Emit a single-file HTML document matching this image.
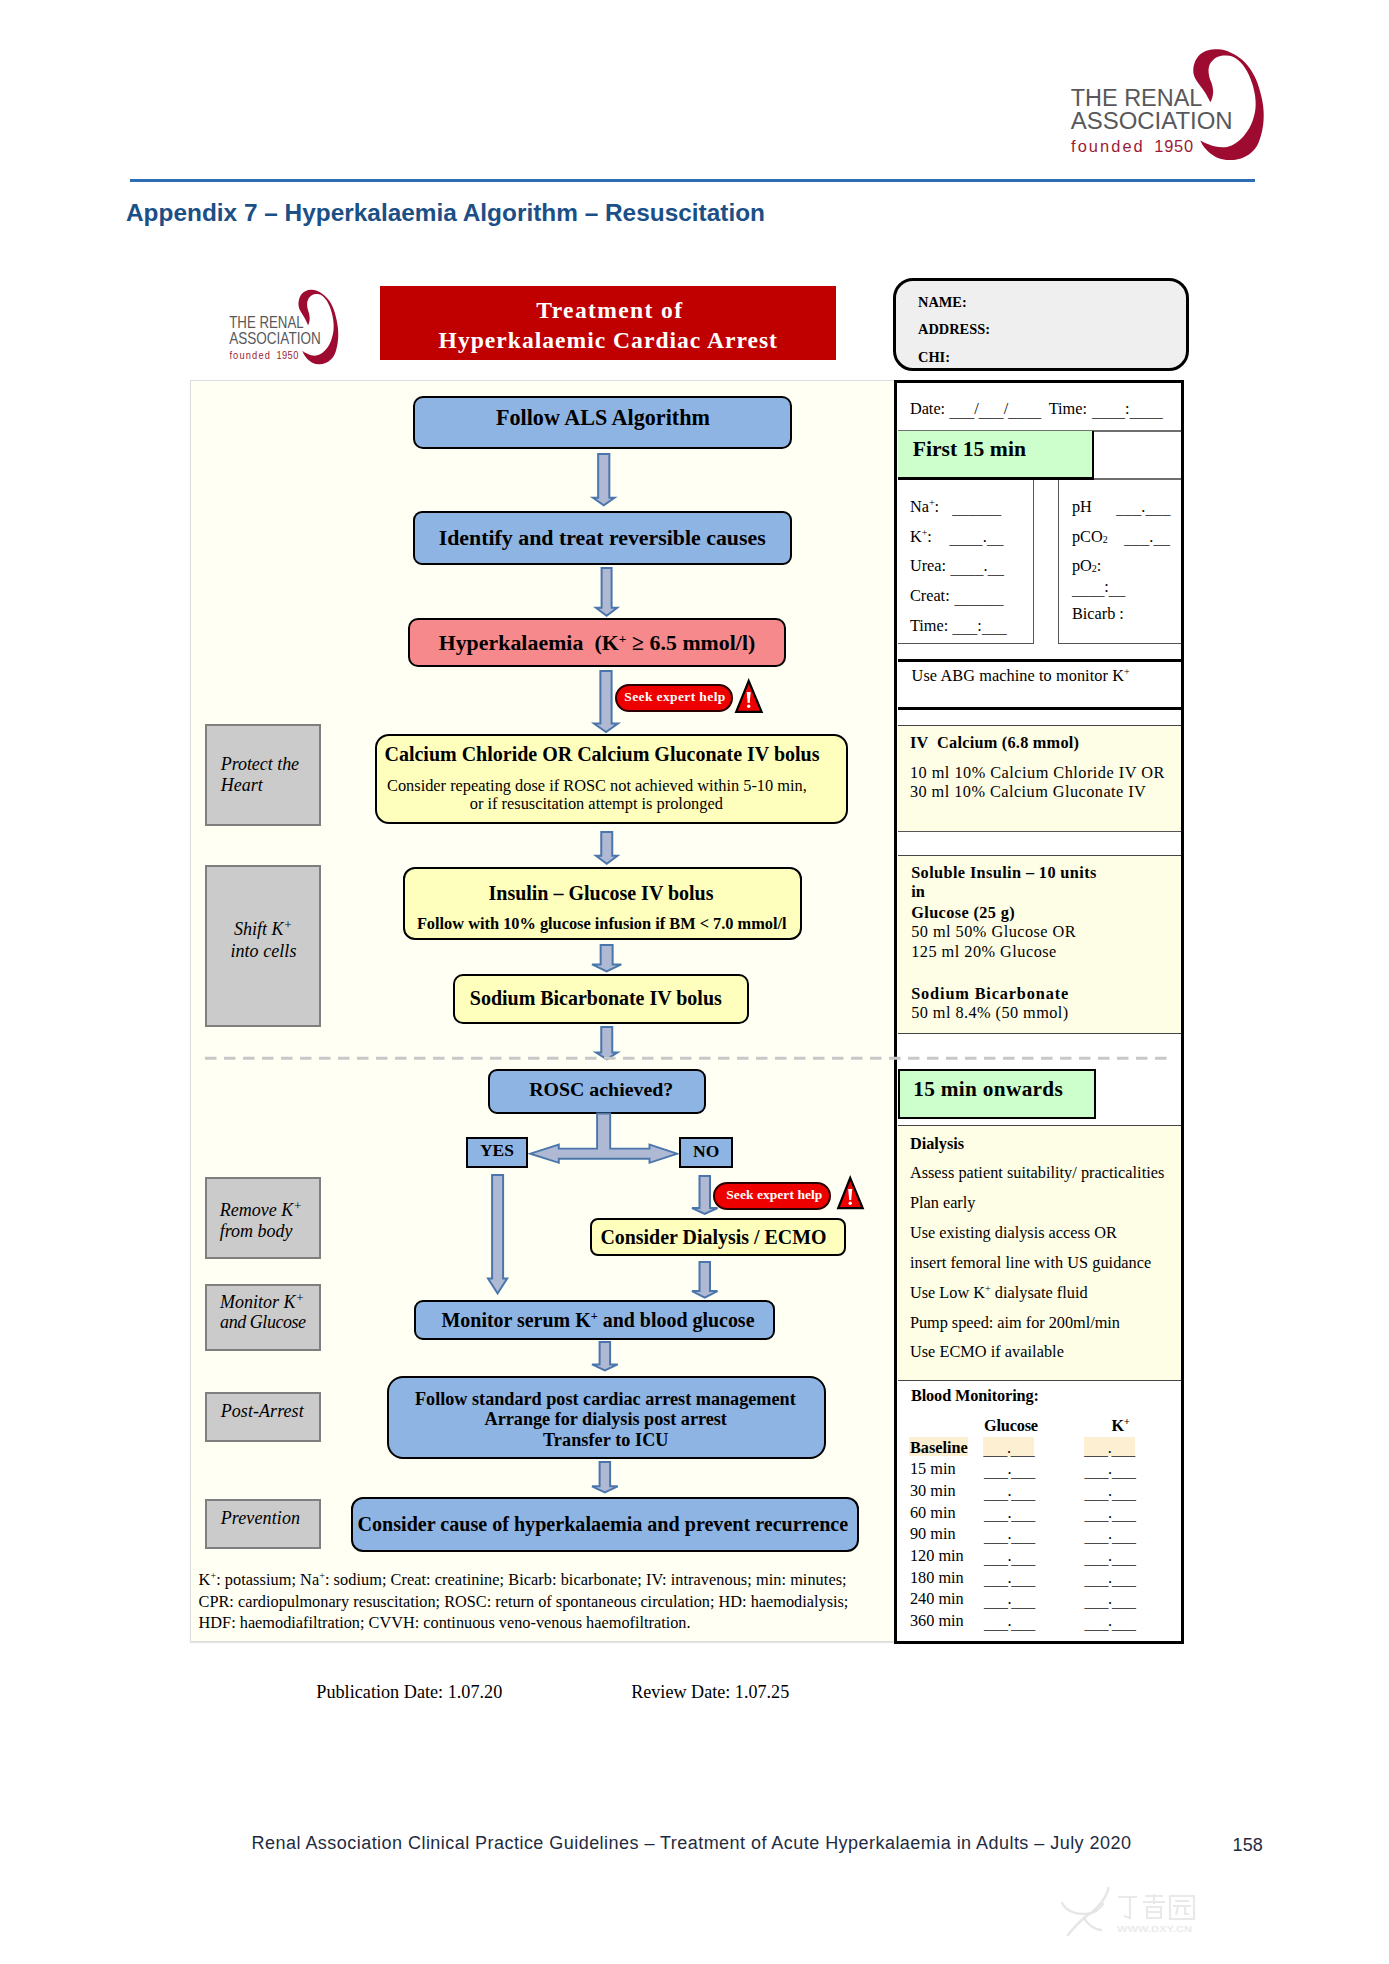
<!DOCTYPE html>
<html><head><meta charset='utf-8'><title>Hyperkalaemia Algorithm</title><style>
html,body{margin:0;padding:0;background:#fff;}
body{width:1389px;height:1964px;position:relative;overflow:hidden;}
.t{position:absolute;white-space:nowrap;line-height:1;}
.r{position:absolute;box-sizing:border-box;}
svg.r{overflow:visible;}
.sp{font-size:62%;vertical-align:0.55em;line-height:0;}
.sb{font-size:62%;vertical-align:-0.1em;line-height:0;}
.u{color:#4a4a4a;position:relative;top:2.5px;}
.sp2{font-size:72%;vertical-align:0.5em;line-height:0;}
</style></head><body>
<svg class='r' style='left:1065.00px;top:45.00px;width:205.00px;height:117.00px' viewBox='1065 45 205 117' preserveAspectRatio='none'><path d='M1210.4,102.22 C1209.53,100.64 1207.09,95.75 1205.20,92.74 C1203.31,89.73 1200.82,86.72 1199.08,84.17 C1197.34,81.62 1195.76,79.69 1194.79,77.44 C1193.82,75.19 1193.26,73.25 1193.26,70.70 C1193.26,68.15 1193.72,64.79 1194.79,62.14 C1195.86,59.49 1197.75,56.68 1199.69,54.79 C1201.63,52.90 1203.97,51.73 1206.42,50.81 C1208.87,49.89 1211.32,49.38 1214.38,49.28 C1217.44,49.18 1221.01,49.08 1224.78,50.20 C1228.55,51.32 1233.25,53.52 1237.02,56.02 C1240.79,58.52 1244.26,61.33 1247.42,65.20 C1250.58,69.08 1253.64,73.97 1255.99,79.27 C1258.34,84.57 1260.22,91.51 1261.50,97.02 C1262.78,102.53 1263.44,107.22 1263.64,112.32 C1263.84,117.42 1263.59,122.52 1262.72,127.62 C1261.85,132.72 1260.38,138.74 1258.44,142.92 C1256.50,147.10 1254.16,150.06 1251.10,152.71 C1248.04,155.36 1243.75,157.61 1240.08,158.83 C1236.41,160.06 1232.63,160.16 1229.06,160.06 C1225.49,159.96 1221.92,159.44 1218.66,158.22 C1215.40,157.00 1212.03,154.75 1209.48,152.71 C1206.93,150.67 1204.89,148.02 1203.36,145.98 C1201.83,143.94 1200.81,141.39 1200.30,140.47 C1201.32,140.98 1203.87,142.51 1206.42,143.53 C1208.97,144.55 1212.54,145.98 1215.60,146.59 C1218.66,147.20 1221.72,147.61 1224.78,147.20 C1227.84,146.79 1230.90,145.87 1233.96,144.14 C1237.02,142.41 1240.28,140.06 1243.14,136.80 C1246.00,133.54 1249.06,129.15 1251.10,124.56 C1253.14,119.97 1254.77,114.36 1255.38,109.26 C1255.99,104.16 1255.59,99.06 1254.77,93.96 C1253.95,88.86 1252.42,83.45 1250.48,78.66 C1248.54,73.87 1245.89,68.77 1243.14,65.20 C1240.39,61.63 1237.02,58.87 1233.96,57.24 C1230.90,55.61 1227.64,55.40 1224.78,55.40 C1221.92,55.40 1219.17,56.02 1216.82,57.24 C1214.47,58.47 1212.08,60.71 1210.70,62.75 C1209.32,64.79 1208.76,67.03 1208.56,69.48 C1208.36,71.93 1208.92,74.99 1209.48,77.44 C1210.04,79.89 1211.32,81.83 1211.93,84.17 C1212.54,86.52 1213.10,89.27 1213.15,91.51 C1213.20,93.75 1212.69,95.84 1212.23,97.63 C1211.77,99.41 1210.71,101.45 1210.40,102.22 Z' fill='#9E0B30'/><text x='1070.7' y='105.6' font-family='Liberation Sans' font-size='24.6' fill='#58585A' textLength='131.7' lengthAdjust='spacingAndGlyphs'>THE RENAL</text><text x='1070.7' y='129.4' font-family='Liberation Sans' font-size='24.3' fill='#58585A' textLength='162' lengthAdjust='spacingAndGlyphs'>ASSOCIATION</text><text x='1071' y='151.8' font-family='Liberation Sans' font-size='16.4' fill='#9B1B36' textLength='71.7' lengthAdjust='spacing'>founded</text><text x='1154.3' y='151.8' font-family='Liberation Sans' font-size='16.4' fill='#9B1B36' textLength='38.7' lengthAdjust='spacing'>1950</text></svg>
<div class='r' style='left:130.00px;top:179.00px;width:1125.00px;height:3.00px;background:#2E6DB4;'></div>
<div id='t1' class='t' style='letter-spacing:0.002px;left:126.00px;top:201.35px;font-size:24.4px;font-family:"Liberation Sans", sans-serif;font-weight:bold;font-style:normal;color:#1B4F86;'>Appendix 7 – Hyperkalaemia Algorithm – Resuscitation</div>
<div class='r' style='left:190.00px;top:380.00px;width:705.00px;height:1262.00px;background:#FFFFF4;border:1.5px solid #DCDCDC;box-shadow:0 1px 1px #e6e6e6;'></div>
<svg class='r' style='left:225.78px;top:286.81px;width:115.82px;height:78.51px' viewBox='1065 45 205 117' preserveAspectRatio='none'><path d='M1210.4,102.22 C1209.53,100.64 1207.09,95.75 1205.20,92.74 C1203.31,89.73 1200.82,86.72 1199.08,84.17 C1197.34,81.62 1195.76,79.69 1194.79,77.44 C1193.82,75.19 1193.26,73.25 1193.26,70.70 C1193.26,68.15 1193.72,64.79 1194.79,62.14 C1195.86,59.49 1197.75,56.68 1199.69,54.79 C1201.63,52.90 1203.97,51.73 1206.42,50.81 C1208.87,49.89 1211.32,49.38 1214.38,49.28 C1217.44,49.18 1221.01,49.08 1224.78,50.20 C1228.55,51.32 1233.25,53.52 1237.02,56.02 C1240.79,58.52 1244.26,61.33 1247.42,65.20 C1250.58,69.08 1253.64,73.97 1255.99,79.27 C1258.34,84.57 1260.22,91.51 1261.50,97.02 C1262.78,102.53 1263.44,107.22 1263.64,112.32 C1263.84,117.42 1263.59,122.52 1262.72,127.62 C1261.85,132.72 1260.38,138.74 1258.44,142.92 C1256.50,147.10 1254.16,150.06 1251.10,152.71 C1248.04,155.36 1243.75,157.61 1240.08,158.83 C1236.41,160.06 1232.63,160.16 1229.06,160.06 C1225.49,159.96 1221.92,159.44 1218.66,158.22 C1215.40,157.00 1212.03,154.75 1209.48,152.71 C1206.93,150.67 1204.89,148.02 1203.36,145.98 C1201.83,143.94 1200.81,141.39 1200.30,140.47 C1201.32,140.98 1203.87,142.51 1206.42,143.53 C1208.97,144.55 1212.54,145.98 1215.60,146.59 C1218.66,147.20 1221.72,147.61 1224.78,147.20 C1227.84,146.79 1230.90,145.87 1233.96,144.14 C1237.02,142.41 1240.28,140.06 1243.14,136.80 C1246.00,133.54 1249.06,129.15 1251.10,124.56 C1253.14,119.97 1254.77,114.36 1255.38,109.26 C1255.99,104.16 1255.59,99.06 1254.77,93.96 C1253.95,88.86 1252.42,83.45 1250.48,78.66 C1248.54,73.87 1245.89,68.77 1243.14,65.20 C1240.39,61.63 1237.02,58.87 1233.96,57.24 C1230.90,55.61 1227.64,55.40 1224.78,55.40 C1221.92,55.40 1219.17,56.02 1216.82,57.24 C1214.47,58.47 1212.08,60.71 1210.70,62.75 C1209.32,64.79 1208.76,67.03 1208.56,69.48 C1208.36,71.93 1208.92,74.99 1209.48,77.44 C1210.04,79.89 1211.32,81.83 1211.93,84.17 C1212.54,86.52 1213.10,89.27 1213.15,91.51 C1213.20,93.75 1212.69,95.84 1212.23,97.63 C1211.77,99.41 1210.71,101.45 1210.40,102.22 Z' fill='#9E0B30'/><text x='1070.7' y='105.6' font-family='Liberation Sans' font-size='24.6' fill='#58585A' textLength='131.7' lengthAdjust='spacingAndGlyphs'>THE RENAL</text><text x='1070.7' y='129.4' font-family='Liberation Sans' font-size='24.3' fill='#58585A' textLength='162' lengthAdjust='spacingAndGlyphs'>ASSOCIATION</text><text x='1071' y='151.8' font-family='Liberation Sans' font-size='16.4' fill='#9B1B36' textLength='71.7' lengthAdjust='spacing'>founded</text><text x='1154.3' y='151.8' font-family='Liberation Sans' font-size='16.4' fill='#9B1B36' textLength='38.7' lengthAdjust='spacing'>1950</text></svg>
<div class='r' style='left:380.00px;top:285.50px;width:456.00px;height:74.70px;background:#C00000;'></div>
<div id='t2' class='t' style='letter-spacing:1.361px;left:536.30px;top:298.85px;font-size:23.6px;font-family:"Liberation Serif", serif;font-weight:bold;font-style:normal;color:#fff;'>Treatment of</div>
<div id='t3' class='t' style='letter-spacing:0.997px;left:438.60px;top:328.65px;font-size:23.6px;font-family:"Liberation Serif", serif;font-weight:bold;font-style:normal;color:#fff;'>Hyperkalaemic Cardiac Arrest</div>
<div class='r' style='left:892.70px;top:277.80px;width:296.80px;height:93.00px;background:#EFEFEF;border:3px solid #000;border-radius:20px;box-sizing:border-box;'></div>
<div id='t4' class='t' style='left:918.00px;top:294.69px;font-size:14.4px;font-family:"Liberation Serif", serif;font-weight:bold;font-style:normal;color:#000;'>NAME:</div>
<div id='t5' class='t' style='letter-spacing:0.004px;left:918.00px;top:322.49px;font-size:14.4px;font-family:"Liberation Serif", serif;font-weight:bold;font-style:normal;color:#000;'>ADDRESS:</div>
<div id='t6' class='t' style='left:918.00px;top:349.69px;font-size:14.4px;font-family:"Liberation Serif", serif;font-weight:bold;font-style:normal;color:#000;'>CHI:</div>
<div class='r' style='left:412.70px;top:395.70px;width:379.50px;height:53.30px;background:#8EB4E3;border:2.2px solid #000;border-radius:10px;box-sizing:border-box;'></div>
<div id='t7' class='t' style='left:496.00px;top:406.65px;font-size:22.14px;font-family:"Liberation Serif", serif;font-weight:bold;font-style:normal;color:#000;'>Follow ALS Algorithm</div>
<svg class='r' style='left:589.75px;top:451.10px;width:27.50px;height:57.30px'><path d='M8.149999999999977,3.0 L19.350000000000023,3.0 L19.350000000000023,46.799999999999955 L24.5,46.799999999999955 L13.75,54.299999999999955 L3.0,46.799999999999955 L8.149999999999977,46.799999999999955 Z' fill='#AFB9D3' stroke='#4A76AC' stroke-width='2' stroke-linejoin='miter'/></svg>
<div class='r' style='left:412.70px;top:510.80px;width:379.50px;height:54.70px;background:#8EB4E3;border:2.2px solid #000;border-radius:9px;box-sizing:border-box;'></div>
<div id='t8' class='t' style='left:438.70px;top:527.77px;font-size:21.86px;font-family:"Liberation Serif", serif;font-weight:bold;font-style:normal;color:#000;'>Identify and treat reversible causes</div>
<svg class='r' style='left:593.10px;top:564.60px;width:27.20px;height:53.70px'><path d='M8.600000000000023,3.0 L18.600000000000023,3.0 L18.600000000000023,42.69999999999993 L24.200000000000045,42.69999999999993 L13.600000000000023,50.69999999999993 L3.0,42.69999999999993 L8.600000000000023,42.69999999999993 Z' fill='#AFB9D3' stroke='#4A76AC' stroke-width='2' stroke-linejoin='miter'/></svg>
<div class='r' style='left:407.60px;top:617.50px;width:378.80px;height:49.80px;background:#F5898C;border:2.2px solid #000;border-radius:10px;box-sizing:border-box;'></div>
<div id='t9' class='t' style='letter-spacing:0.070px;left:438.70px;top:632.87px;font-size:21.75px;font-family:"Liberation Serif", serif;font-weight:bold;font-style:normal;color:#000;'>Hyperkalaemia&nbsp; (K<span class='sp'>+</span> ≥ 6.5 mmol/l)</div>
<svg class='r' style='left:591.00px;top:668.20px;width:30.00px;height:67.00px'><path d='M9.399999999999977,3.0 L20.600000000000023,3.0 L20.600000000000023,55.5 L27.0,55.5 L15.0,64.0 L3.0,55.5 L9.399999999999977,55.5 Z' fill='#AFB9D3' stroke='#4A76AC' stroke-width='2' stroke-linejoin='miter'/></svg>
<div class='r' style='left:614.80px;top:684.10px;width:118.70px;height:28.10px;background:#EE0000;border:2px solid #2a0000;border-radius:14.050000000000011px;box-sizing:border-box;'></div>
<div id='t10' class='t' style='letter-spacing:0.383px;left:624.30px;top:689.53px;font-size:13.5px;font-family:"Liberation Serif", serif;font-weight:bold;font-style:normal;color:#fff;'>Seek expert help</div>
<svg class='r' style='left:731.50px;top:675.00px;width:33.80px;height:40.80px'><path d='M16.700000000000045,6 L29.599999999999955,36.799999999999955 L4.2,36.799999999999955 Z' fill='#EE0000' stroke='#000' stroke-width='2.2' stroke-linejoin='miter'/><path d='M14.700000000000045,17 L18.700000000000045,17 L17.700000000000045,28 L15.700000000000045,28 Z' fill='#fff'/><circle cx='16.700000000000045' cy='31.3' r='1.7' fill='#fff'/></svg>
<div class='r' style='left:375.10px;top:734.40px;width:473.40px;height:89.30px;background:#FFFFBD;border:2.2px solid #000;border-radius:14px;box-sizing:border-box;'></div>
<div id='t11' class='t' style='letter-spacing:-0.005px;left:384.50px;top:744.30px;font-size:20px;font-family:"Liberation Serif", serif;font-weight:bold;font-style:normal;color:#000;'>Calcium Chloride OR Calcium Gluconate IV bolus</div>
<div id='t12' class='t' style='left:387.00px;top:777.88px;font-size:16.37px;font-family:"Liberation Serif", serif;font-weight:normal;font-style:normal;color:#000;'>Consider repeating dose if ROSC not achieved within 5-10 min,</div>
<div id='t13' class='t' style='left:469.80px;top:795.88px;font-size:16.36px;font-family:"Liberation Serif", serif;font-weight:normal;font-style:normal;color:#000;'>or if resuscitation attempt is prolonged</div>
<svg class='r' style='left:592.75px;top:828.60px;width:27.50px;height:37.70px'><path d='M8.25,3.0 L19.25,3.0 L19.25,26.699999999999932 L24.5,26.699999999999932 L13.75,34.69999999999993 L3.0,26.699999999999932 L8.25,26.699999999999932 Z' fill='#AFB9D3' stroke='#4A76AC' stroke-width='2' stroke-linejoin='miter'/></svg>
<div class='r' style='left:402.50px;top:866.90px;width:399.20px;height:73.40px;background:#FFFFBD;border:2.2px solid #000;border-radius:12px;box-sizing:border-box;'></div>
<div id='t14' class='t' style='letter-spacing:-0.011px;left:488.50px;top:882.50px;font-size:20px;font-family:"Liberation Serif", serif;font-weight:bold;font-style:normal;color:#000;'>Insulin – Glucose IV bolus</div>
<div id='t15' class='t' style='letter-spacing:-0.002px;left:416.90px;top:916.09px;font-size:16.35px;font-family:"Liberation Serif", serif;font-weight:bold;font-style:normal;color:#000;'>Follow with 10% glucose infusion if BM &lt; 7.0 mmol/l</div>
<svg class='r' style='left:589.35px;top:942.00px;width:35.30px;height:32.40px'><path d='M11.649999999999977,3 L23.649999999999977,3 L23.649999999999977,22.399999999999977 L32.299999999999955,22.399999999999977 L17.649999999999977,29.399999999999977 L3.0,22.399999999999977 L11.649999999999977,22.399999999999977 Z' fill='#AFB9D3' stroke='#4A76AC' stroke-width='2' stroke-linejoin='miter'/></svg>
<div class='r' style='left:452.90px;top:973.90px;width:295.90px;height:49.70px;background:#FFFFBD;border:2.2px solid #000;border-radius:10px;box-sizing:border-box;'></div>
<div id='t16' class='t' style='letter-spacing:-0.019px;left:469.80px;top:988.10px;font-size:20px;font-family:"Liberation Serif", serif;font-weight:bold;font-style:normal;color:#000;'>Sodium Bicarbonate IV bolus</div>
<svg class='r' style='left:593.25px;top:1023.50px;width:27.50px;height:38.40px'><path d='M8.25,3.0 L19.25,3.0 L19.25,28.40000000000009 L24.5,28.40000000000009 L13.75,35.40000000000009 L3.0,28.40000000000009 L8.25,28.40000000000009 Z' fill='#AFB9D3' stroke='#4A76AC' stroke-width='2' stroke-linejoin='miter'/></svg>
<div class='r' style='left:487.80px;top:1068.60px;width:217.80px;height:45.00px;background:#8EB4E3;border:2.2px solid #000;border-radius:9px;box-sizing:border-box;'></div>
<div id='t17' class='t' style='letter-spacing:0.001px;left:529.20px;top:1080.01px;font-size:19.86px;font-family:"Liberation Serif", serif;font-weight:bold;font-style:normal;color:#000;'>ROSC achieved?</div>
<svg class='r' style='left:520px;top:1105px;width:170px;height:70px'>
<path d='M77.1,8.5 L90.2,8.5 L90.2,43.6 L129.5,43.6 L129.5,39.6 L157.2,48.7 L129.5,57.8 L129.5,53.8 L38.8,53.8 L38.8,57.8 L10.2,48.7 L38.8,39.6 L38.8,43.6 L77.1,43.6 Z' fill='#AFB9D3' stroke='#4A76AC' stroke-width='1.9' stroke-linejoin='miter'/>
</svg>
<div class='r' style='left:466.30px;top:1137.30px;width:61.60px;height:31.10px;background:#8EB4E3;border:2px solid #000;box-sizing:border-box;'></div>
<div id='t18' class='t' style='left:480.00px;top:1141.67px;font-size:17.48px;font-family:"Liberation Serif", serif;font-weight:bold;font-style:normal;color:#000;'>YES</div>
<div class='r' style='left:679.20px;top:1137.30px;width:54.20px;height:31.10px;background:#8EB4E3;border:2px solid #000;box-sizing:border-box;'></div>
<div id='t19' class='t' style='left:693.00px;top:1142.95px;font-size:17.5px;font-family:"Liberation Serif", serif;font-weight:bold;font-style:normal;color:#000;'>NO</div>
<svg class='r' style='left:484.50px;top:1172.30px;width:25.20px;height:124.50px'><path d='M7.100000000000023,3.0 L18.100000000000023,3.0 L18.100000000000023,106.5 L22.200000000000045,106.5 L12.600000000000023,121.5 L3.0,106.5 L7.100000000000023,106.5 Z' fill='#AFB9D3' stroke='#4A76AC' stroke-width='2' stroke-linejoin='miter'/></svg>
<svg class='r' style='left:689.35px;top:1173.00px;width:31.50px;height:44.00px'><path d='M10.5,3 L21.0,3 L21.0,35 L28.5,35 L15.75,41 L3.0,35 L10.5,35 Z' fill='#AFB9D3' stroke='#4A76AC' stroke-width='2' stroke-linejoin='miter'/></svg>
<div class='r' style='left:712.70px;top:1182.20px;width:118.50px;height:28.30px;background:#EE0000;border:2px solid #2a0000;border-radius:14.149999999999977px;box-sizing:border-box;'></div>
<div id='t20' class='t' style='letter-spacing:0.050px;left:726.30px;top:1188.13px;font-size:13.5px;font-family:"Liberation Serif", serif;font-weight:bold;font-style:normal;color:#fff;'>Seek expert help</div>
<svg class='r' style='left:834.10px;top:1171.60px;width:32.90px;height:40.20px'><path d='M16.199999999999932,6 L28.699999999999978,36.200000000000045 L4.2,36.200000000000045 Z' fill='#EE0000' stroke='#000' stroke-width='2.2' stroke-linejoin='miter'/><path d='M14.199999999999932,17 L18.199999999999932,17 L17.199999999999932,28 L15.199999999999932,28 Z' fill='#fff'/><circle cx='16.199999999999932' cy='31.3' r='1.7' fill='#fff'/></svg>
<div class='r' style='left:590.00px;top:1217.80px;width:255.70px;height:38.70px;background:#FFFFBD;border:2.2px solid #000;border-radius:8px;box-sizing:border-box;'></div>
<div id='t21' class='t' style='letter-spacing:0.016px;left:600.40px;top:1228.08px;font-size:19.9px;font-family:"Liberation Serif", serif;font-weight:bold;font-style:normal;color:#000;'>Consider Dialysis / ECMO</div>
<svg class='r' style='left:689.35px;top:1259.40px;width:31.50px;height:41.60px'><path d='M10.5,3.0 L21.0,3.0 L21.0,32.09999999999991 L28.5,32.09999999999991 L15.75,38.59999999999991 L3.0,32.09999999999991 L10.5,32.09999999999991 Z' fill='#AFB9D3' stroke='#4A76AC' stroke-width='2' stroke-linejoin='miter'/></svg>
<div class='r' style='left:413.80px;top:1300.40px;width:361.10px;height:39.70px;background:#8EB4E3;border:2.2px solid #000;border-radius:9px;box-sizing:border-box;'></div>
<div id='t22' class='t' style='letter-spacing:0.000px;left:441.50px;top:1310.94px;font-size:19.95px;font-family:"Liberation Serif", serif;font-weight:bold;font-style:normal;color:#000;'>Monitor serum K<span class='sp'>+</span> and blood glucose</div>
<svg class='r' style='left:589.15px;top:1339.40px;width:31.70px;height:34.40px'><path d='M10.600000000000023,3.0 L21.100000000000023,3.0 L21.100000000000023,25.399999999999864 L28.700000000000045,25.399999999999864 L15.850000000000023,31.399999999999864 L3.0,25.399999999999864 L10.600000000000023,25.399999999999864 Z' fill='#AFB9D3' stroke='#4A76AC' stroke-width='2' stroke-linejoin='miter'/></svg>
<div class='r' style='left:386.70px;top:1375.90px;width:439.30px;height:83.20px;background:#8EB4E3;border:2.2px solid #000;border-radius:16px;box-sizing:border-box;'></div>
<div id='t23' class='t' style='letter-spacing:-0.008px;left:415.00px;top:1389.68px;font-size:18.2px;font-family:"Liberation Serif", serif;font-weight:bold;font-style:normal;color:#000;'>Follow standard post cardiac arrest management</div>
<div id='t24' class='t' style='letter-spacing:-0.017px;left:484.60px;top:1410.38px;font-size:18.2px;font-family:"Liberation Serif", serif;font-weight:bold;font-style:normal;color:#000;'>Arrange for dialysis post arrest</div>
<div id='t25' class='t' style='letter-spacing:0.064px;left:543.00px;top:1430.98px;font-size:18.2px;font-family:"Liberation Serif", serif;font-weight:bold;font-style:normal;color:#000;'>Transfer to ICU</div>
<svg class='r' style='left:589.15px;top:1459.20px;width:31.70px;height:36.30px'><path d='M10.600000000000023,3.0 L21.100000000000023,3.0 L21.100000000000023,27.299999999999955 L28.700000000000045,27.299999999999955 L15.850000000000023,33.299999999999955 L3.0,27.299999999999955 L10.600000000000023,27.299999999999955 Z' fill='#AFB9D3' stroke='#4A76AC' stroke-width='2' stroke-linejoin='miter'/></svg>
<div class='r' style='left:350.90px;top:1497.20px;width:508.10px;height:55.20px;background:#8EB4E3;border:2.2px solid #000;border-radius:12px;box-sizing:border-box;'></div>
<div id='t26' class='t' style='letter-spacing:-0.002px;left:357.50px;top:1513.72px;font-size:20.1px;font-family:"Liberation Serif", serif;font-weight:bold;font-style:normal;color:#000;'>Consider cause of hyperkalaemia and prevent recurrence</div>
<div class='r' style='left:204.70px;top:723.80px;width:116.80px;height:102.30px;background:#CBCBCB;border:2px solid #7F7F7F;box-sizing:border-box;'></div>
<div id='t27' class='t' style='letter-spacing:-0.041px;left:220.70px;top:754.84px;font-size:18px;font-family:"Liberation Serif", serif;font-weight:normal;font-style:italic;color:#000;'>Protect the</div>
<div id='t28' class='t' style='left:220.70px;top:775.94px;font-size:18px;font-family:"Liberation Serif", serif;font-weight:normal;font-style:italic;color:#000;'>Heart</div>
<div class='r' style='left:204.70px;top:865.00px;width:116.80px;height:162.20px;background:#CBCBCB;border:2px solid #7F7F7F;box-sizing:border-box;'></div>
<div id='t29' class='t' style='left:234.00px;top:919.84px;font-size:18px;font-family:"Liberation Serif", serif;font-weight:normal;font-style:italic;color:#000;'>Shift K<span class='sp2'>+</span></div>
<div id='t30' class='t' style='letter-spacing:0.056px;left:230.40px;top:941.84px;font-size:18px;font-family:"Liberation Serif", serif;font-weight:normal;font-style:italic;color:#000;'>into cells</div>
<div class='r' style='left:204.70px;top:1176.70px;width:116.80px;height:82.70px;background:#CBCBCB;border:2px solid #7F7F7F;box-sizing:border-box;'></div>
<div id='t31' class='t' style='left:219.70px;top:1200.64px;font-size:18px;font-family:"Liberation Serif", serif;font-weight:normal;font-style:italic;color:#000;'>Remove K<span class='sp2'>+</span></div>
<div id='t32' class='t' style='left:219.70px;top:1222.24px;font-size:18px;font-family:"Liberation Serif", serif;font-weight:normal;font-style:italic;color:#000;'>from body</div>
<div class='r' style='left:204.70px;top:1284.20px;width:116.80px;height:67.20px;background:#CBCBCB;border:2px solid #7F7F7F;box-sizing:border-box;'></div>
<div id='t33' class='t' style='left:220.10px;top:1292.84px;font-size:18px;font-family:"Liberation Serif", serif;font-weight:normal;font-style:italic;color:#000;'>Monitor K<span class='sp2'>+</span></div>
<div id='t34' class='t' style='letter-spacing:-0.448px;left:220.10px;top:1313.24px;font-size:18px;font-family:"Liberation Serif", serif;font-weight:normal;font-style:italic;color:#000;'>and Glucose</div>
<div class='r' style='left:204.70px;top:1391.70px;width:116.80px;height:50.30px;background:#CBCBCB;border:2px solid #7F7F7F;box-sizing:border-box;'></div>
<div id='t35' class='t' style='letter-spacing:0.067px;left:220.70px;top:1402.24px;font-size:18px;font-family:"Liberation Serif", serif;font-weight:normal;font-style:italic;color:#000;'>Post-Arrest</div>
<div class='r' style='left:204.70px;top:1499.00px;width:116.80px;height:49.90px;background:#CBCBCB;border:2px solid #7F7F7F;box-sizing:border-box;'></div>
<div id='t36' class='t' style='letter-spacing:0.121px;left:220.70px;top:1508.74px;font-size:18px;font-family:"Liberation Serif", serif;font-weight:normal;font-style:italic;color:#000;'>Prevention</div>
<div id='t37' class='t' style='letter-spacing:0.054px;left:198.60px;top:1571.63px;font-size:16.3px;font-family:"Liberation Serif", serif;font-weight:normal;font-style:normal;color:#000;'>K<span class='sp'>+</span>: potassium; Na<span class='sp'>+</span>: sodium; Creat: creatinine; Bicarb: bicarbonate; IV: intravenous; min: minutes;</div>
<div id='t38' class='t' style='left:198.60px;top:1593.53px;font-size:16.3px;font-family:"Liberation Serif", serif;font-weight:normal;font-style:normal;color:#000;'>CPR: cardiopulmonary resuscitation; ROSC: return of spontaneous circulation; HD: haemodialysis;</div>
<div id='t39' class='t' style='left:198.60px;top:1615.43px;font-size:16.3px;font-family:"Liberation Serif", serif;font-weight:normal;font-style:normal;color:#000;'>HDF: haemodiafiltration; CVVH: continuous veno-venous haemofiltration.</div>
<div id='t40' class='t' style='letter-spacing:0.005px;left:316.30px;top:1682.78px;font-size:18.2px;font-family:"Liberation Serif", serif;font-weight:normal;font-style:normal;color:#000;'>Publication Date: 1.07.20</div>
<div id='t41' class='t' style='letter-spacing:0.011px;left:631.20px;top:1682.96px;font-size:18.1px;font-family:"Liberation Serif", serif;font-weight:normal;font-style:normal;color:#000;'>Review Date: 1.07.25</div>
<div class='r' style='left:894.00px;top:380.00px;width:290.20px;height:1264.00px;background:#fff;border:3.5px solid #000;box-sizing:border-box;'></div>
<div id='t42' class='t' style='left:909.90px;top:401.23px;font-size:16.3px;font-family:"Liberation Serif", serif;font-weight:normal;font-style:normal;color:#000;'>Date:</div>
<div id='t43' class='t' style='letter-spacing:0.121px;left:949.40px;top:401.23px;font-size:16.3px;font-family:"Liberation Serif", serif;font-weight:normal;font-style:normal;color:#000;'><span class='u'>___</span>/<span class='u'>___</span>/<span class='u'>____</span></div>
<div id='t44' class='t' style='left:1048.70px;top:401.23px;font-size:16.3px;font-family:"Liberation Serif", serif;font-weight:normal;font-style:normal;color:#000;'>Time:</div>
<div id='t45' class='t' style='letter-spacing:0.118px;left:1092.00px;top:401.23px;font-size:16.3px;font-family:"Liberation Serif", serif;font-weight:normal;font-style:normal;color:#000;'><span class='u'>____</span>:<span class='u'>____</span></div>
<div class='r' style='left:897.50px;top:429.80px;width:283.20px;height:2.00px;background:#6f6f6f;'></div>
<div class='r' style='left:897.50px;top:431.40px;width:196.60px;height:46.90px;background:#CCFFCC;border-right:2.2px solid #000;box-sizing:border-box;'></div>
<div class='r' style='left:897.50px;top:477.30px;width:196.60px;height:3.00px;background:#000;'></div>
<div class='r' style='left:1094.10px;top:478.20px;width:86.60px;height:2.00px;background:#6f6f6f;'></div>
<div id='t46' class='t' style='letter-spacing:0.034px;left:912.70px;top:439.36px;font-size:21.64px;font-family:"Liberation Serif", serif;font-weight:bold;font-style:normal;color:#000;'>First 15 min</div>
<div class='r' style='left:897.50px;top:479.80px;width:136.10px;height:164.20px;background:transparent;border-right:1.6px solid #555;border-bottom:1.6px solid #555;box-sizing:border-box;'></div>
<div class='r' style='left:1058.00px;top:479.80px;width:122.70px;height:164.20px;background:transparent;border-left:1.6px solid #555;border-bottom:1.6px solid #555;box-sizing:border-box;'></div>
<div id='t47' class='t' style='left:909.90px;top:498.83px;font-size:16.3px;font-family:"Liberation Serif", serif;font-weight:normal;font-style:normal;color:#000;'>Na<span class='sp'>+</span>:</div>
<div id='t48' class='t' style='letter-spacing:0.031px;left:952.20px;top:498.83px;font-size:16.3px;font-family:"Liberation Serif", serif;font-weight:normal;font-style:normal;color:#000;'><span class='u'>______</span></div>
<div id='t49' class='t' style='left:909.90px;top:528.63px;font-size:16.3px;font-family:"Liberation Serif", serif;font-weight:normal;font-style:normal;color:#000;'>K<span class='sp'>+</span>:</div>
<div id='t50' class='t' style='letter-spacing:0.180px;left:949.40px;top:528.63px;font-size:16.3px;font-family:"Liberation Serif", serif;font-weight:normal;font-style:normal;color:#000;'><span class='u'>____</span>.<span class='u'>__</span></div>
<div id='t51' class='t' style='left:909.90px;top:558.43px;font-size:16.3px;font-family:"Liberation Serif", serif;font-weight:normal;font-style:normal;color:#000;'>Urea:</div>
<div id='t52' class='t' style='letter-spacing:0.096px;left:950.50px;top:558.43px;font-size:16.3px;font-family:"Liberation Serif", serif;font-weight:normal;font-style:normal;color:#000;'><span class='u'>____</span>.<span class='u'>__</span></div>
<div id='t53' class='t' style='left:909.90px;top:588.03px;font-size:16.3px;font-family:"Liberation Serif", serif;font-weight:normal;font-style:normal;color:#000;'>Creat:</div>
<div id='t54' class='t' style='letter-spacing:0.031px;left:954.40px;top:588.03px;font-size:16.3px;font-family:"Liberation Serif", serif;font-weight:normal;font-style:normal;color:#000;'><span class='u'>______</span></div>
<div id='t55' class='t' style='left:909.90px;top:617.63px;font-size:16.3px;font-family:"Liberation Serif", serif;font-weight:normal;font-style:normal;color:#000;'>Time:</div>
<div id='t56' class='t' style='letter-spacing:0.104px;left:952.60px;top:617.63px;font-size:16.3px;font-family:"Liberation Serif", serif;font-weight:normal;font-style:normal;color:#000;'><span class='u'>___</span>:<span class='u'>___</span></div>
<div id='t57' class='t' style='left:1071.90px;top:498.63px;font-size:16.3px;font-family:"Liberation Serif", serif;font-weight:normal;font-style:normal;color:#000;'>pH</div>
<div id='t58' class='t' style='letter-spacing:0.180px;left:1116.30px;top:498.63px;font-size:16.3px;font-family:"Liberation Serif", serif;font-weight:normal;font-style:normal;color:#000;'><span class='u'>___</span>.<span class='u'>___</span></div>
<div id='t59' class='t' style='left:1071.90px;top:528.63px;font-size:16.3px;font-family:"Liberation Serif", serif;font-weight:normal;font-style:normal;color:#000;'>pCO<span class='sb'>2</span></div>
<div id='t60' class='t' style='letter-spacing:0.184px;left:1124.30px;top:528.63px;font-size:16.3px;font-family:"Liberation Serif", serif;font-weight:normal;font-style:normal;color:#000;'><span class='u'>___</span>.<span class='u'>__</span></div>
<div id='t61' class='t' style='left:1071.90px;top:558.43px;font-size:16.3px;font-family:"Liberation Serif", serif;font-weight:normal;font-style:normal;color:#000;'>pO<span class='sb'>2</span>:</div>
<div id='t62' class='t' style='letter-spacing:-0.062px;left:1072.00px;top:579.33px;font-size:16.3px;font-family:"Liberation Serif", serif;font-weight:normal;font-style:normal;color:#000;'><span class='u'>____</span>:<span class='u'>__</span></div>
<div id='t63' class='t' style='left:1071.90px;top:605.93px;font-size:16.3px;font-family:"Liberation Serif", serif;font-weight:normal;font-style:normal;color:#000;'>Bicarb :</div>
<div class='r' style='left:897.50px;top:658.50px;width:283.20px;height:51.70px;background:transparent;border-top:3px solid #000;border-bottom:3px solid #000;box-sizing:border-box;'></div>
<div id='t64' class='t' style='letter-spacing:0.076px;left:911.60px;top:668.13px;font-size:16.3px;font-family:"Liberation Serif", serif;font-weight:normal;font-style:normal;color:#000;'>Use ABG machine to monitor K<span class='sp'>+</span></div>
<div class='r' style='left:897.50px;top:724.50px;width:283.20px;height:107.00px;background:#FEFDE6;border-top:1.5px solid #444;border-bottom:1.5px solid #555;box-sizing:border-box;'></div>
<div id='t65' class='t' style='letter-spacing:0.235px;left:909.90px;top:734.63px;font-size:16.3px;font-family:"Liberation Serif", serif;font-weight:bold;font-style:normal;color:#000;'>IV&nbsp; Calcium (6.8 mmol)</div>
<div id='t66' class='t' style='letter-spacing:0.484px;left:909.90px;top:764.83px;font-size:16.3px;font-family:"Liberation Serif", serif;font-weight:normal;font-style:normal;color:#000;'>10 ml 10% Calcium Chloride IV OR</div>
<div id='t67' class='t' style='letter-spacing:0.451px;left:909.90px;top:784.33px;font-size:16.3px;font-family:"Liberation Serif", serif;font-weight:normal;font-style:normal;color:#000;'>30 ml 10% Calcium Gluconate IV</div>
<div class='r' style='left:897.50px;top:854.60px;width:283.20px;height:179.40px;background:#FEFDE6;border-top:1.5px solid #444;border-bottom:1.5px solid #444;box-sizing:border-box;'></div>
<div id='t68' class='t' style='letter-spacing:0.381px;left:911.20px;top:864.73px;font-size:16.3px;font-family:"Liberation Serif", serif;font-weight:bold;font-style:normal;color:#000;'>Soluble Insulin – 10 units</div>
<div id='t69' class='t' style='left:911.20px;top:884.13px;font-size:16.3px;font-family:"Liberation Serif", serif;font-weight:bold;font-style:normal;color:#000;'>in</div>
<div id='t70' class='t' style='letter-spacing:0.386px;left:911.20px;top:904.63px;font-size:16.3px;font-family:"Liberation Serif", serif;font-weight:bold;font-style:normal;color:#000;'>Glucose (25 g)</div>
<div id='t71' class='t' style='letter-spacing:0.470px;left:911.20px;top:924.13px;font-size:16.3px;font-family:"Liberation Serif", serif;font-weight:normal;font-style:normal;color:#000;'>50 ml 50% Glucose OR</div>
<div id='t72' class='t' style='letter-spacing:0.476px;left:911.20px;top:943.53px;font-size:16.3px;font-family:"Liberation Serif", serif;font-weight:normal;font-style:normal;color:#000;'>125 ml 20% Glucose</div>
<div id='t73' class='t' style='letter-spacing:0.854px;left:911.20px;top:985.63px;font-size:16.3px;font-family:"Liberation Serif", serif;font-weight:bold;font-style:normal;color:#000;'>Sodium Bicarbonate</div>
<div id='t74' class='t' style='letter-spacing:0.433px;left:911.20px;top:1005.13px;font-size:16.3px;font-family:"Liberation Serif", serif;font-weight:normal;font-style:normal;color:#000;'>50 ml 8.4% (50 mmol)</div>
<div class='r' style='left:898.20px;top:1068.60px;width:197.40px;height:50.30px;background:#CCFFCC;border:2.5px solid #000;box-sizing:border-box;'></div>
<div id='t75' class='t' style='letter-spacing:0.303px;left:913.30px;top:1078.73px;font-size:21.3px;font-family:"Liberation Serif", serif;font-weight:bold;font-style:normal;color:#000;'>15 min onwards</div>
<div class='r' style='left:897.50px;top:1124.60px;width:283.20px;height:256.40px;background:#FEFDE6;border-top:1.5px solid #444;border-bottom:1.5px solid #444;box-sizing:border-box;'></div>
<div id='t76' class='t' style='left:909.90px;top:1135.83px;font-size:16.3px;font-family:"Liberation Serif", serif;font-weight:bold;font-style:normal;color:#000;'>Dialysis</div>
<div id='t77' class='t' style='letter-spacing:0.018px;left:909.90px;top:1164.93px;font-size:16.3px;font-family:"Liberation Serif", serif;font-weight:normal;font-style:normal;color:#000;'>Assess patient suitability/ practicalities</div>
<div id='t78' class='t' style='left:909.90px;top:1195.23px;font-size:16.3px;font-family:"Liberation Serif", serif;font-weight:normal;font-style:normal;color:#000;'>Plan early</div>
<div id='t79' class='t' style='letter-spacing:-0.007px;left:909.90px;top:1225.03px;font-size:16.3px;font-family:"Liberation Serif", serif;font-weight:normal;font-style:normal;color:#000;'>Use existing dialysis access OR</div>
<div id='t80' class='t' style='letter-spacing:0.037px;left:909.90px;top:1255.23px;font-size:16.3px;font-family:"Liberation Serif", serif;font-weight:normal;font-style:normal;color:#000;'>insert femoral line with US guidance</div>
<div id='t81' class='t' style='letter-spacing:0.007px;left:909.90px;top:1284.83px;font-size:16.3px;font-family:"Liberation Serif", serif;font-weight:normal;font-style:normal;color:#000;'>Use Low K<span class='sp'>+</span> dialysate fluid</div>
<div id='t82' class='t' style='letter-spacing:-0.023px;left:909.90px;top:1315.03px;font-size:16.3px;font-family:"Liberation Serif", serif;font-weight:normal;font-style:normal;color:#000;'>Pump speed: aim for 200ml/min</div>
<div id='t83' class='t' style='letter-spacing:0.036px;left:909.90px;top:1344.23px;font-size:16.3px;font-family:"Liberation Serif", serif;font-weight:normal;font-style:normal;color:#000;'>Use ECMO if available</div>
<div id='t84' class='t' style='letter-spacing:-0.107px;left:910.90px;top:1388.23px;font-size:16.3px;font-family:"Liberation Serif", serif;font-weight:bold;font-style:normal;color:#000;'>Blood Monitoring:</div>
<div id='t85' class='t' style='letter-spacing:-0.195px;left:984.00px;top:1418.43px;font-size:16.3px;font-family:"Liberation Serif", serif;font-weight:bold;font-style:normal;color:#000;'>Glucose</div>
<div id='t86' class='t' style='left:1111.40px;top:1418.43px;font-size:16.3px;font-family:"Liberation Serif", serif;font-weight:bold;font-style:normal;color:#000;'>K<span class='sp'>+</span></div>
<div class='r' style='left:909.40px;top:1437.20px;width:58.40px;height:18.40px;background:#FCEFD2;'></div>
<div class='r' style='left:983.30px;top:1437.20px;width:50.30px;height:18.40px;background:#FCEFD2;'></div>
<div class='r' style='left:1084.00px;top:1437.20px;width:51.10px;height:18.40px;background:#FCEFD2;'></div>
<div id='t87' class='t' style='letter-spacing:-0.001px;left:909.90px;top:1439.63px;font-size:16.3px;font-family:"Liberation Serif", serif;font-weight:bold;font-style:normal;color:#000;'>Baseline</div>
<div id='t88' class='t' style='letter-spacing:-0.320px;left:983.50px;top:1439.63px;font-size:16.3px;font-family:"Liberation Serif", serif;font-weight:normal;font-style:normal;color:#000;'><span class='u'>___</span>.<span class='u'>___</span></div>
<div id='t89' class='t' style='letter-spacing:-0.320px;left:1084.20px;top:1439.63px;font-size:16.3px;font-family:"Liberation Serif", serif;font-weight:normal;font-style:normal;color:#000;'><span class='u'>___</span>.<span class='u'>___</span></div>
<div id='t90' class='t' style='left:909.90px;top:1461.23px;font-size:16.3px;font-family:"Liberation Serif", serif;font-weight:normal;font-style:normal;color:#000;'>15 min</div>
<div id='t91' class='t' style='letter-spacing:-0.320px;left:984.00px;top:1461.23px;font-size:16.3px;font-family:"Liberation Serif", serif;font-weight:normal;font-style:normal;color:#000;'><span class='u'>___</span>.<span class='u'>___</span></div>
<div id='t92' class='t' style='letter-spacing:-0.254px;left:1084.40px;top:1461.23px;font-size:16.3px;font-family:"Liberation Serif", serif;font-weight:normal;font-style:normal;color:#000;'><span class='u'>___</span>.<span class='u'>___</span></div>
<div id='t93' class='t' style='left:909.90px;top:1483.23px;font-size:16.3px;font-family:"Liberation Serif", serif;font-weight:normal;font-style:normal;color:#000;'>30 min</div>
<div id='t94' class='t' style='letter-spacing:-0.320px;left:984.00px;top:1483.23px;font-size:16.3px;font-family:"Liberation Serif", serif;font-weight:normal;font-style:normal;color:#000;'><span class='u'>___</span>.<span class='u'>___</span></div>
<div id='t95' class='t' style='letter-spacing:-0.254px;left:1084.40px;top:1483.23px;font-size:16.3px;font-family:"Liberation Serif", serif;font-weight:normal;font-style:normal;color:#000;'><span class='u'>___</span>.<span class='u'>___</span></div>
<div id='t96' class='t' style='left:909.90px;top:1504.83px;font-size:16.3px;font-family:"Liberation Serif", serif;font-weight:normal;font-style:normal;color:#000;'>60 min</div>
<div id='t97' class='t' style='letter-spacing:-0.320px;left:984.00px;top:1504.83px;font-size:16.3px;font-family:"Liberation Serif", serif;font-weight:normal;font-style:normal;color:#000;'><span class='u'>___</span>.<span class='u'>___</span></div>
<div id='t98' class='t' style='letter-spacing:-0.254px;left:1084.40px;top:1504.83px;font-size:16.3px;font-family:"Liberation Serif", serif;font-weight:normal;font-style:normal;color:#000;'><span class='u'>___</span>.<span class='u'>___</span></div>
<div id='t99' class='t' style='left:909.90px;top:1526.43px;font-size:16.3px;font-family:"Liberation Serif", serif;font-weight:normal;font-style:normal;color:#000;'>90 min</div>
<div id='t100' class='t' style='letter-spacing:-0.320px;left:984.00px;top:1526.43px;font-size:16.3px;font-family:"Liberation Serif", serif;font-weight:normal;font-style:normal;color:#000;'><span class='u'>___</span>.<span class='u'>___</span></div>
<div id='t101' class='t' style='letter-spacing:-0.254px;left:1084.40px;top:1526.43px;font-size:16.3px;font-family:"Liberation Serif", serif;font-weight:normal;font-style:normal;color:#000;'><span class='u'>___</span>.<span class='u'>___</span></div>
<div id='t102' class='t' style='left:909.90px;top:1548.03px;font-size:16.3px;font-family:"Liberation Serif", serif;font-weight:normal;font-style:normal;color:#000;'>120 min</div>
<div id='t103' class='t' style='letter-spacing:-0.320px;left:984.00px;top:1548.03px;font-size:16.3px;font-family:"Liberation Serif", serif;font-weight:normal;font-style:normal;color:#000;'><span class='u'>___</span>.<span class='u'>___</span></div>
<div id='t104' class='t' style='letter-spacing:-0.254px;left:1084.40px;top:1548.03px;font-size:16.3px;font-family:"Liberation Serif", serif;font-weight:normal;font-style:normal;color:#000;'><span class='u'>___</span>.<span class='u'>___</span></div>
<div id='t105' class='t' style='left:909.90px;top:1569.63px;font-size:16.3px;font-family:"Liberation Serif", serif;font-weight:normal;font-style:normal;color:#000;'>180 min</div>
<div id='t106' class='t' style='letter-spacing:-0.320px;left:984.00px;top:1569.63px;font-size:16.3px;font-family:"Liberation Serif", serif;font-weight:normal;font-style:normal;color:#000;'><span class='u'>___</span>.<span class='u'>___</span></div>
<div id='t107' class='t' style='letter-spacing:-0.254px;left:1084.40px;top:1569.63px;font-size:16.3px;font-family:"Liberation Serif", serif;font-weight:normal;font-style:normal;color:#000;'><span class='u'>___</span>.<span class='u'>___</span></div>
<div id='t108' class='t' style='left:909.90px;top:1591.23px;font-size:16.3px;font-family:"Liberation Serif", serif;font-weight:normal;font-style:normal;color:#000;'>240 min</div>
<div id='t109' class='t' style='letter-spacing:-0.320px;left:984.00px;top:1591.23px;font-size:16.3px;font-family:"Liberation Serif", serif;font-weight:normal;font-style:normal;color:#000;'><span class='u'>___</span>.<span class='u'>___</span></div>
<div id='t110' class='t' style='letter-spacing:-0.254px;left:1084.40px;top:1591.23px;font-size:16.3px;font-family:"Liberation Serif", serif;font-weight:normal;font-style:normal;color:#000;'><span class='u'>___</span>.<span class='u'>___</span></div>
<div id='t111' class='t' style='left:909.90px;top:1613.33px;font-size:16.3px;font-family:"Liberation Serif", serif;font-weight:normal;font-style:normal;color:#000;'>360 min</div>
<div id='t112' class='t' style='letter-spacing:-0.320px;left:984.00px;top:1613.33px;font-size:16.3px;font-family:"Liberation Serif", serif;font-weight:normal;font-style:normal;color:#000;'><span class='u'>___</span>.<span class='u'>___</span></div>
<div id='t113' class='t' style='letter-spacing:-0.254px;left:1084.40px;top:1613.33px;font-size:16.3px;font-family:"Liberation Serif", serif;font-weight:normal;font-style:normal;color:#000;'><span class='u'>___</span>.<span class='u'>___</span></div>
<svg class='r' style='left:200px;top:1055px;width:975px;height:6px'><line x1='5' y1='3.3' x2='972' y2='3.3' stroke='#C8C8C8' stroke-width='3' stroke-dasharray='11.5 7.5'/></svg>
<svg class='r' style='left:1055px;top:1880px;width:150px;height:65px' viewBox='1055 1880 150 65'>
<g fill='none' stroke='#E6E6E6' stroke-width='2.4' stroke-linecap='round'>
<path d='M1108.5,1888 C1106,1900 1094,1912 1084,1918 C1078,1923 1072,1930 1068,1935'/>
<path d='M1062,1903 C1066,1911 1076,1914 1086,1914 C1093,1914 1100,1909 1103,1904'/>
<path d='M1084,1918 C1088,1925 1094,1929 1101,1930'/>
</g>
<g fill='none' stroke='#E9E9E9' stroke-width='2.2'>
<path d='M1118,1897 L1137,1897 M1130,1897 L1130,1918 L1124,1916'/>
<path d='M1145,1896 L1163,1896 M1143,1902 L1165,1902 M1154,1894 L1154,1904 M1147,1907 L1161,1907 L1161,1918 L1147,1918 Z M1147,1912 L1161,1912'/>
<path d='M1170,1896 L1194,1896 L1194,1919 L1170,1919 Z M1175,1901 L1189,1901 M1173,1906 L1191,1906 M1178,1906 L1176,1915 M1185,1906 L1185,1914 L1189,1914'/>
</g>
<text x='1117' y='1932' font-family='Liberation Sans' font-weight='bold' font-size='9' fill='#EBEBEB' textLength='75' lengthAdjust='spacingAndGlyphs'>WWW.DXY.CN</text>
</svg>
<div id='t114' class='t' style='letter-spacing:0.460px;left:251.60px;top:1834.06px;font-size:18px;font-family:"Liberation Sans", sans-serif;font-weight:normal;font-style:normal;color:#1E2B3F;'>Renal Association Clinical Practice Guidelines – Treatment of Acute Hyperkalaemia in Adults – July 2020</div>
<div id='t115' class='t' style='letter-spacing:0.077px;left:1232.60px;top:1835.56px;font-size:18px;font-family:"Liberation Sans", sans-serif;font-weight:normal;font-style:normal;color:#1E2B3F;'>158</div>
</body></html>
